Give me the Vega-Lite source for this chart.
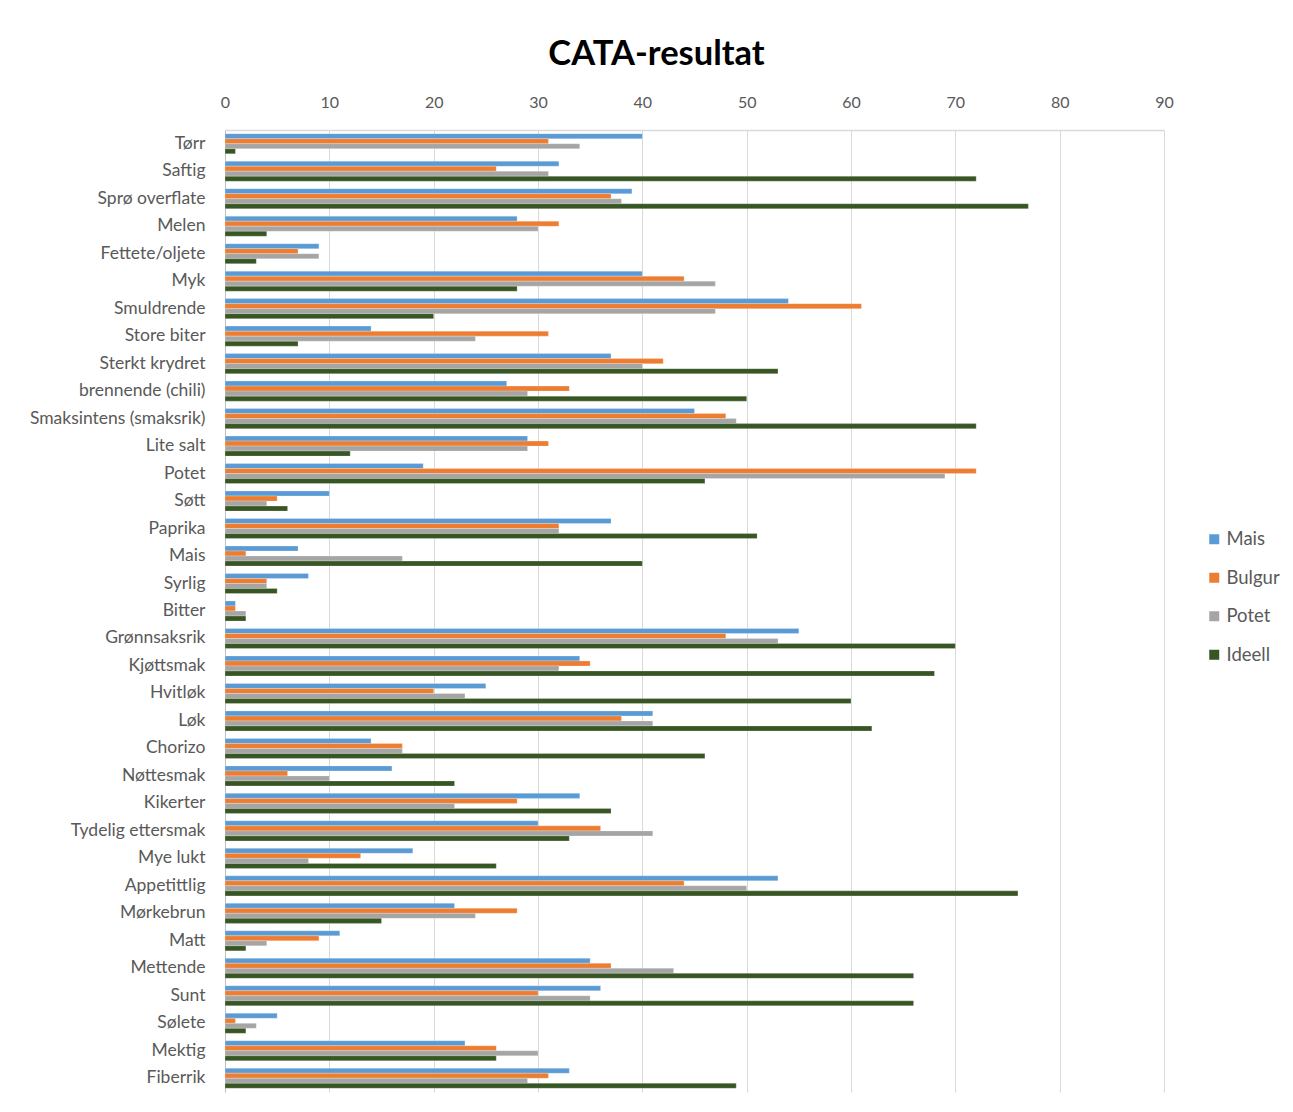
{
  "$schema": "https://vega.github.io/schema/vega-lite/v6.json",
  "autosize": "none",
  "width": 939,
  "height": 962,
  "padding": {"left": 225, "top": 130, "right": 129, "bottom": 20},
  "background": "white",
  "title": {"text": "CATA-resultat", "anchor": "middle", "dx": -38, "fontSize": 34.5, "font": "Lato", "fontWeight": "bold", "color": "#000000", "offset": 22},
  "data": {"values": [
    {"attr":"Tørr","Mais":40,"Bulgur":31,"Potet":34,"Ideell":1},
    {"attr":"Saftig","Mais":32,"Bulgur":26,"Potet":31,"Ideell":72},
    {"attr":"Sprø overflate","Mais":39,"Bulgur":37,"Potet":38,"Ideell":77},
    {"attr":"Melen","Mais":28,"Bulgur":32,"Potet":30,"Ideell":4},
    {"attr":"Fettete/oljete","Mais":9,"Bulgur":7,"Potet":9,"Ideell":3},
    {"attr":"Myk","Mais":40,"Bulgur":44,"Potet":47,"Ideell":28},
    {"attr":"Smuldrende","Mais":54,"Bulgur":61,"Potet":47,"Ideell":20},
    {"attr":"Store biter","Mais":14,"Bulgur":31,"Potet":24,"Ideell":7},
    {"attr":"Sterkt krydret","Mais":37,"Bulgur":42,"Potet":40,"Ideell":53},
    {"attr":"brennende (chili)","Mais":27,"Bulgur":33,"Potet":29,"Ideell":50},
    {"attr":"Smaksintens (smaksrik)","Mais":45,"Bulgur":48,"Potet":49,"Ideell":72},
    {"attr":"Lite salt","Mais":29,"Bulgur":31,"Potet":29,"Ideell":12},
    {"attr":"Potet","Mais":19,"Bulgur":72,"Potet":69,"Ideell":46},
    {"attr":"Søtt","Mais":10,"Bulgur":5,"Potet":4,"Ideell":6},
    {"attr":"Paprika","Mais":37,"Bulgur":32,"Potet":32,"Ideell":51},
    {"attr":"Mais","Mais":7,"Bulgur":2,"Potet":17,"Ideell":40},
    {"attr":"Syrlig","Mais":8,"Bulgur":4,"Potet":4,"Ideell":5},
    {"attr":"Bitter","Mais":1,"Bulgur":1,"Potet":2,"Ideell":2},
    {"attr":"Grønnsaksrik","Mais":55,"Bulgur":48,"Potet":53,"Ideell":70},
    {"attr":"Kjøttsmak","Mais":34,"Bulgur":35,"Potet":32,"Ideell":68},
    {"attr":"Hvitløk","Mais":25,"Bulgur":20,"Potet":23,"Ideell":60},
    {"attr":"Løk","Mais":41,"Bulgur":38,"Potet":41,"Ideell":62},
    {"attr":"Chorizo","Mais":14,"Bulgur":17,"Potet":17,"Ideell":46},
    {"attr":"Nøttesmak","Mais":16,"Bulgur":6,"Potet":10,"Ideell":22},
    {"attr":"Kikerter","Mais":34,"Bulgur":28,"Potet":22,"Ideell":37},
    {"attr":"Tydelig ettersmak","Mais":30,"Bulgur":36,"Potet":41,"Ideell":33},
    {"attr":"Mye lukt","Mais":18,"Bulgur":13,"Potet":8,"Ideell":26},
    {"attr":"Appetittlig","Mais":53,"Bulgur":44,"Potet":50,"Ideell":76},
    {"attr":"Mørkebrun","Mais":22,"Bulgur":28,"Potet":24,"Ideell":15},
    {"attr":"Matt","Mais":11,"Bulgur":9,"Potet":4,"Ideell":2},
    {"attr":"Mettende","Mais":35,"Bulgur":37,"Potet":43,"Ideell":66},
    {"attr":"Sunt","Mais":36,"Bulgur":30,"Potet":35,"Ideell":66},
    {"attr":"Sølete","Mais":5,"Bulgur":1,"Potet":3,"Ideell":2},
    {"attr":"Mektig","Mais":23,"Bulgur":26,"Potet":30,"Ideell":26},
    {"attr":"Fiberrik","Mais":33,"Bulgur":31,"Potet":29,"Ideell":49}
  ]},
  "transform": [{"fold": ["Mais","Bulgur","Potet","Ideell"], "as": ["serie","verdi"]}],
  "mark": {"type": "bar", "stroke": "#ffffff", "strokeWidth": 0.4, "strokeOpacity": 0.6},
  "encoding": {
    "y": {"field": "attr", "type": "nominal", "sort": null, "title": null,
      "scale": {"paddingInner": 0.27, "paddingOuter": 0.135},
      "axis": {"ticks": false, "labelPadding": 20, "labelFontSize": 17.5, "labelLimit": 400, "labelFont": "Lato", "labelColor": "#595959", "domainColor": "#bfbfbf", "domainWidth": 1, "grid": false}},
    "yOffset": {"field": "serie", "type": "nominal", "sort": ["Mais","Bulgur","Potet","Ideell"]},
    "x": {"field": "verdi", "type": "quantitative", "title": null,
      "scale": {"domain": [0, 90], "nice": false},
      "axis": {"orient": "top", "values": [0,10,20,30,40,50,60,70,80,90], "labelFlush": false, "ticks": false, "labelPadding": 20, "labelFontSize": 16, "labelFont": "Lato", "labelColor": "#595959", "domainColor": "#d9d9d9", "domainWidth": 1.5, "gridColor": "#d9d9d9", "gridWidth": 1}},
    "color": {"field": "serie", "type": "nominal", "sort": ["Mais","Bulgur","Potet","Ideell"],
      "scale": {"domain": ["Mais","Bulgur","Potet","Ideell"], "range": ["#5B9BD5","#ED7D31","#A5A5A5","#375623"]},
      "legend": {"title": null, "orient": "none", "legendX": 980, "legendY": 400, "symbolType": "square", "symbolSize": 100, "symbolStrokeWidth": 0, "labelFontSize": 18.5, "labelFont": "Lato", "labelColor": "#595959", "rowPadding": 19.5, "labelOffset": 3}}
  },
  "config": {"view": {"stroke": null}}
}
